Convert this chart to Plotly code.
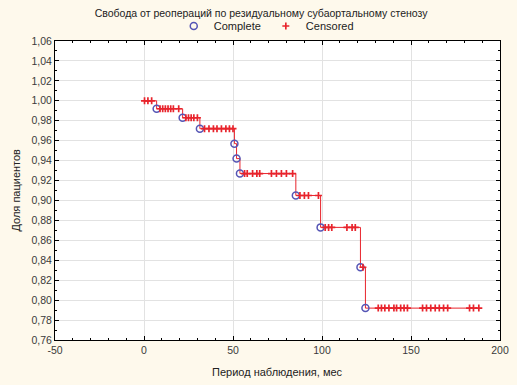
import plotly.graph_objects as go

# Event (complete) times and survival after each event
event_times = [7.1, 21.7, 31.4, 50.8, 52.0, 53.9, 85.3, 99.2, 121.6, 124.4]
event_surv = [0.992, 0.983, 0.972, 0.957, 0.942, 0.927, 0.905, 0.873, 0.833, 0.792]

# Censored times
censored_times = [0.3, 2.2, 4.3,
                  9.0, 10.5, 12.0, 13.5, 15.0, 16.5, 19.5,
                  23.5, 25.0, 26.5, 28.0, 30.0,
                  34.0, 36.5, 39.0, 41.0, 43.5, 46.0, 48.0, 50.0,
                  56.5, 58.0, 61.0, 63.4, 65.0, 71.6, 74.4, 77.2, 80.0, 83.5,
                  87.6, 90.1, 92.4, 98.0,
                  101.8, 103.7, 105.5, 114.0, 116.9, 118.7,
                  123.0,
                  131.6, 133.4, 135.3, 137.6, 140.4, 141.9, 144.2, 146.1, 148.0,
                  156.5, 158.7, 161.1, 163.6, 165.9, 168.3, 170.6,
                  182.9, 185.1, 188.1]

x_ticks = [-50, 0, 50, 100, 150, 200]
x_tick_labels = ["-50", "0", "50", "100", "150", "200"]
y_ticks = [round(0.76 + 0.02 * i, 2) for i in range(16)]
y_tick_labels = [f"{v:.2f}".replace(".", ",") for v in y_ticks]

title_text = "Свобода от реопераций по резидуальному субаортальному стенозу"
x_title = "Период наблюдения, мес"
y_title = "Доля пациентов"


def surv_at(t):
    s = 1.0
    for et, es in zip(event_times, event_surv):
        if et <= t:
            s = es
    return s


cens_y = [surv_at(t) for t in censored_times]

line_x = [0.0] + event_times + [max(censored_times)]
line_y = [1.0] + event_surv + [event_surv[-1]]

RED = "#E8242C"
BLUE = "#5555B5"
BG = "#FEF9EC"
FONT = "Liberation Sans, Arial, sans-serif"
TXT = "#222222"

fig = go.Figure()
fig.add_trace(go.Scatter(x=line_x, y=line_y, mode="lines",
                         line=dict(color=RED, width=1, shape="hv"),
                         showlegend=False, hoverinfo="skip"))
fig.add_trace(go.Scatter(x=event_times, y=event_surv, mode="markers", name="Complete",
                         marker=dict(symbol="circle-open", size=7, color=BLUE,
                                     line=dict(width=1.5, color=BLUE))))
fig.add_trace(go.Scatter(x=censored_times, y=cens_y, mode="markers", name="Censored",
                         marker=dict(symbol="cross-thin-open", size=5, color=RED,
                                     line=dict(width=1.7, color=RED))))

axis_common = dict(showline=True, linecolor="black", linewidth=1, mirror="allticks",
                   ticks="inside", ticklen=4, tickcolor="black", automargin=False,
                   showgrid=True, gridcolor="#E2E2E2", gridwidth=1, zeroline=False,
                   tickfont=dict(family=FONT, size=10.5, color="#3a3a3a"))

fig.update_layout(
    width=517, height=385,
    paper_bgcolor=BG, plot_bgcolor="white",
    margin=dict(l=55, r=17, t=41, b=45),
    title=dict(text=title_text, xref="container", x=0.505, xanchor="center",
               yref="container", y=1 - 13 / 385, yanchor="middle",
               font=dict(family=FONT, size=10.5, color=TXT)),
    legend=dict(orientation="h", xref="container", x=0.515, xanchor="center",
                yref="container", y=1 - 26 / 385, yanchor="middle",
                bgcolor="rgba(0,0,0,0)",
                font=dict(family=FONT, size=11, color=TXT),
                itemwidth=30, tracegroupgap=0),
    xaxis=dict(range=[-50, 200], tickvals=x_ticks, ticktext=x_tick_labels,
               minor=dict(dtick=10, ticks="inside", ticklen=2, tickcolor="black", showgrid=False),
               **axis_common),
    yaxis=dict(range=[0.76, 1.06], tickvals=y_ticks, ticktext=y_tick_labels,
               minor=dict(dtick=0.01, ticks="inside", ticklen=2, tickcolor="black", showgrid=False),
               **axis_common),
    annotations=[
        dict(text=x_title, xref="paper", yref="paper", x=0.5, y=0, xanchor="center",
             yanchor="middle", yshift=-32, showarrow=False,
             font=dict(family=FONT, size=11, color=TXT)),
        dict(text=y_title, xref="paper", yref="paper", x=0, y=0.5, xanchor="center",
             yanchor="middle", xshift=-40, textangle=-90, showarrow=False,
             font=dict(family=FONT, size=11, color=TXT)),
    ],
)

fig.write_html("out.html",
               config={"displayModeBar": False},
               post_script="document.body.style.margin='0';"
                           "document.body.style.background='" + BG + "';")
